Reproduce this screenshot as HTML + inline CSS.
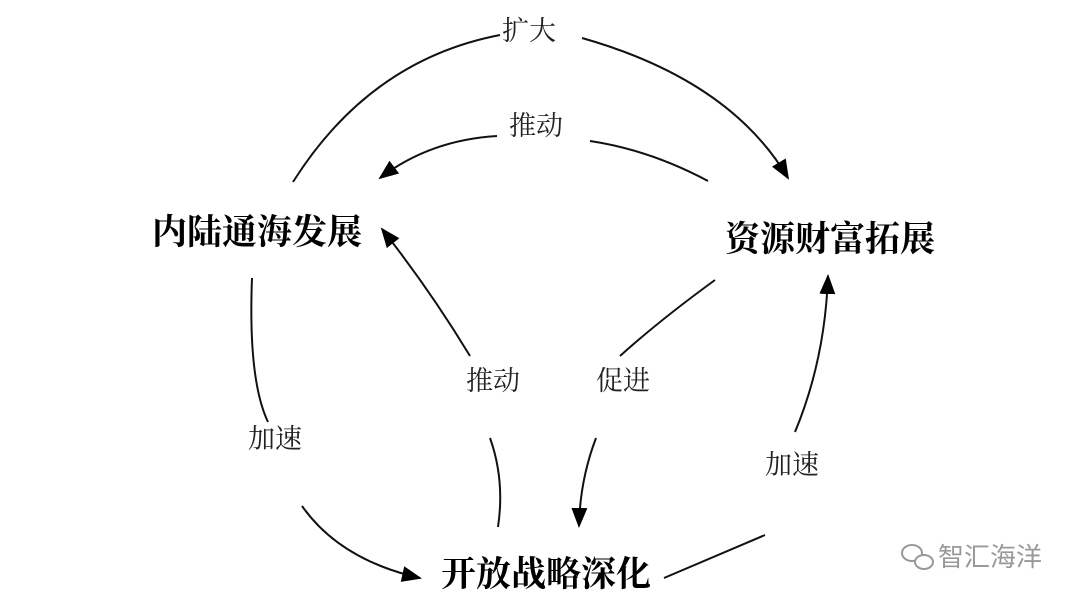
<!DOCTYPE html>
<html><head><meta charset="utf-8"><style>
html,body{margin:0;padding:0;background:#fff}
body{width:1080px;height:607px;position:relative;overflow:hidden;font-family:"Liberation Serif","Noto Serif CJK SC",serif}
.t{position:absolute;white-space:nowrap;color:#222;font-size:27px;line-height:1}
.b{position:absolute;white-space:nowrap;color:#000;font-size:35px;font-weight:bold;line-height:1}
</style></head><body>
<svg width="1080" height="607" style="position:absolute;left:0;top:0">
<defs><marker id="m" viewBox="0 0 10 10" refX="9" refY="5" markerWidth="20" markerHeight="20" markerUnits="userSpaceOnUse" orient="auto"><path d="M0,1 L10,5 L0,9 z" fill="#000"/></marker></defs>
<g fill="none" stroke="#111" stroke-width="2">
<path d="M293,182 Q370,60 500,35"/>
<path d="M582,38 Q730,80 788,178" marker-end="url(#m)"/>
<path d="M708,181 Q650,150 590,141"/>
<path d="M497,136 Q430,140 380,178" marker-end="url(#m)"/>
<path d="M252,278 Q248,380 268,422"/>
<path d="M302,506 Q340,560 420,578" marker-end="url(#m)"/>
<path d="M470,356 Q430,290 382,229" marker-end="url(#m)"/>
<path d="M490,438 Q505,480 498,527"/>
<path d="M715,280 Q660,320 620,356"/>
<path d="M596,438 Q580,480 579,526" marker-end="url(#m)"/>
<path d="M664,578 Q730,550 765,535"/>
<path d="M795,432 Q825,360 828,276" marker-end="url(#m)"/>
</g>
<g fill="none" stroke="#999" stroke-width="2">
<ellipse cx="912" cy="553" rx="10" ry="8"/><ellipse cx="924" cy="562" rx="9" ry="7" fill="#fff"/>
</g>
</svg>
<div class="t" style="left:502px;top:18px">扩大</div>
<div class="t" style="left:509px;top:113px">推动</div>
<div class="b" style="left:152px;top:215px">内陆通海发展</div>
<div class="b" style="left:725px;top:222px">资源财富拓展</div>
<div class="t" style="left:466px;top:368px">推动</div>
<div class="t" style="left:596px;top:368px">促进</div>
<div class="t" style="left:248px;top:426px">加速</div>
<div class="t" style="left:765px;top:452px">加速</div>
<div class="b" style="left:441px;top:557px">开放战略深化</div>
<div class="t" style="left:938px;top:544px;color:#999;font-size:26px;font-family:'Liberation Sans','Noto Sans CJK SC',sans-serif">智汇海洋</div>
</body></html>
